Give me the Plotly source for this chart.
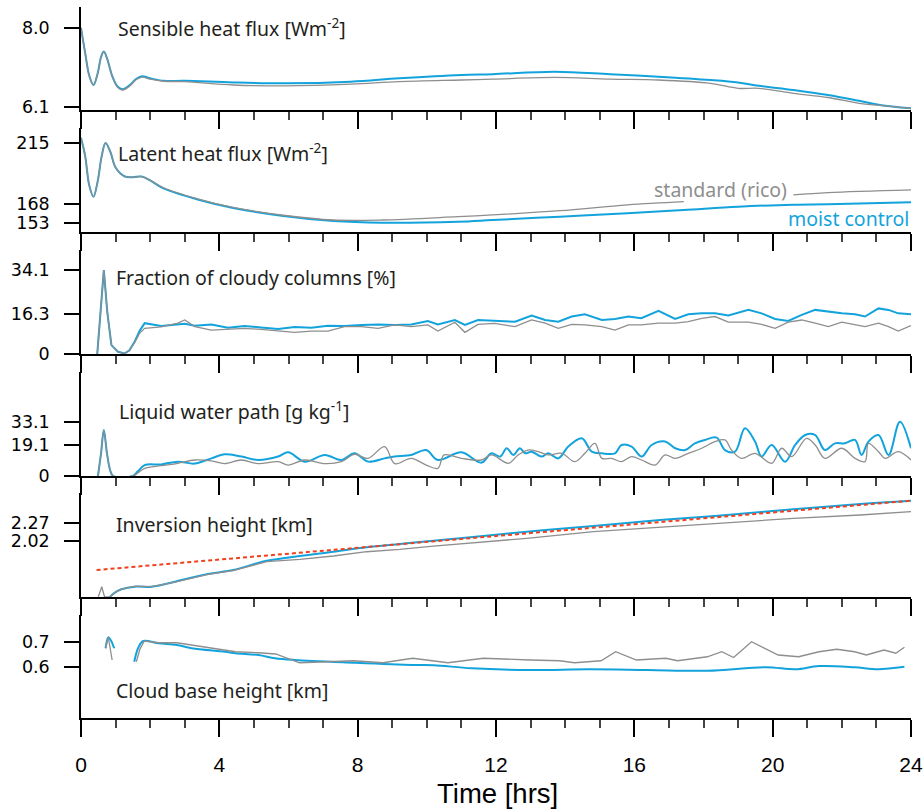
import plotly.graph_objects as go
from plotly.subplots import make_subplots

BLUE = "#13a3dc"
GRAY = "#8e8e8e"
RED = "#f0401e"
TXT = "#231f20"

# ---- panel 1: sensible heat flux [W m-2]
t_shf = [0, 0.12, 0.24, 0.36, 0.48, 0.58, 0.66, 0.76, 0.9, 1.05, 1.2, 1.4, 1.6, 1.77, 2.0, 2.4, 3.0,
         4.4, 5.9, 7.8, 9.2, 11.0, 11.9, 13.7, 15.3, 16.7, 18.2, 19.0, 19.6, 20.6, 21.6, 22.5, 23.1, 24.0]
shf_moist = [8.0, 7.4, 6.85, 6.63, 6.9, 7.3, 7.43, 7.25, 6.85, 6.6, 6.53, 6.62, 6.78, 6.84, 6.79, 6.73, 6.73,
             6.69, 6.67, 6.71, 6.79, 6.87, 6.89, 6.95, 6.89, 6.83, 6.75, 6.69, 6.61, 6.51, 6.39, 6.25, 6.15, 6.07]
shf_std = [8.0, 7.4, 6.85, 6.63, 6.9, 7.3, 7.43, 7.25, 6.85, 6.58, 6.51, 6.6, 6.76, 6.82, 6.77, 6.72, 6.71,
           6.63, 6.61, 6.65, 6.71, 6.75, 6.77, 6.81, 6.77, 6.75, 6.67, 6.55, 6.55, 6.43, 6.33, 6.19, 6.14, 6.07]

# ---- panel 2: latent heat flux [W m-2]
t_lhf = [0, 0.12, 0.24, 0.36, 0.48, 0.6, 0.71, 0.85, 1.0, 1.27, 1.5, 1.75, 2.0, 2.37, 3.4, 4.4, 5.85,
         7.3, 8.7, 10.9, 11.9, 13.85, 15.8, 17.43, 19.0, 20.6, 21.6, 24.0]
lhf_moist = [219, 205, 182, 173.4, 185, 205, 215, 208, 196, 189, 188.5, 189, 186, 180, 171, 164.6, 158.4,
             154.5, 153.2, 154, 155.3, 157.9, 160.5, 163, 165.6, 167.2, 167.5, 169]
lhf_std = [219, 205, 182, 173.4, 185, 205, 215, 208, 196, 189, 188.5, 189, 186, 180.5, 171.5, 165, 159,
           155.3, 155.3, 157.9, 159.2, 162.5, 167, 169.5, None, 174.7, 176.5, 178.6]

# ---- panel 3: fraction of cloudy columns [%]
t_cf = [0.47, 0.57, 0.66, 0.76, 0.88, 1.07, 1.26, 1.4, 1.55, 1.7, 1.84, 2.32, 2.8, 3.0, 3.29, 3.77, 4.25,
        4.73, 5.2, 5.7, 6.18, 6.66, 7.14, 7.62, 8.11, 8.59, 9.07, 9.55, 10.03, 10.32, 10.81, 11.1, 11.48,
        11.96, 12.55, 13.03, 13.42, 13.8, 14.19, 14.57, 15.06, 15.44, 15.83, 16.2, 16.7, 17.18, 17.56,
        17.95, 18.33, 18.72, 19.3, 19.68, 20.07, 20.45, 20.84, 21.23, 21.61, 22.0, 22.38, 22.67, 23.06,
        23.35, 23.63, 24.0]
cf_moist = [0, 17, 34.1, 17, 3.6, 0.9, 0.2, 1.5, 5.0, 9.5, 12.5, 11.4, 12.2, 12.3, 11.5, 12.0, 10.7,
            11.4, 10.8, 10.1, 11.0, 10.7, 11.5, 11.4, 11.8, 12.0, 11.8, 12.0, 13.4, 12.0, 13.8, 11.8, 13.8,
            13.6, 13.1, 15.6, 13.8, 13.1, 15.2, 16.1, 13.8, 14.2, 15.2, 14.5, 17.5, 14.2, 16.1,
            16.5, 16.5, 15.6, 17.9, 16.5, 14.2, 13.4, 15.9, 17.9, 17.2, 16.5, 16.1, 15.2, 18.5,
            17.9, 16.5, 16.1]
cf_std = [0, 17, 34.1, 17, 3.6, 0.9, 0.2, 1.4, 4.6, 8.5, 10.4, 11.0, 12.5, 13.8, 11.1, 9.7, 10.1,
          10.4, 10.0, 9.3, 8.8, 9.3, 9.3, 11.1, 11.1, 10.4, 11.8, 11.1, 11.8, 9.3, 12.9, 8.8, 12.0,
          12.4, 11.1, 13.8, 12.5, 10.4, 12.0, 11.8, 11.1, 9.7, 11.8, 11.8, 12.5, 12.5, 13.1,
          14.5, 15.2, 12.9, 12.9, 12.0, 10.4, 12.9, 13.8, 12.5, 11.1, 12.9, 11.8, 11.1, 12.5,
          11.1, 9.3, 11.5]

# ---- panel 4: liquid water path
t_lwp_moist = [0.49, 0.58, 0.66, 0.75, 0.85, 0.93, 1.5, 1.65, 1.84, 2.32, 2.8, 3.29, 3.77, 4.15, 4.64,
               5.12, 5.7, 5.99, 6.47, 7.05, 7.53, 7.91, 8.3, 8.78, 9.07, 9.55, 9.98, 10.32, 11.0, 11.58,
               11.87, 12.12, 12.31, 12.5, 12.69, 12.84, 13.03, 13.32, 13.51, 13.8, 14.09, 14.48, 14.77,
               15.06, 15.44, 15.63, 15.92, 16.21, 16.5, 16.89, 17.18, 17.47, 17.75, 18.04, 18.38, 18.62,
               18.91, 19.2, 19.49, 19.68, 19.97, 20.36, 20.65, 20.94, 21.23, 21.51, 21.8, 22.09, 22.38,
               22.57, 22.77, 23.06, 23.35, 23.68, 24.0]
lwp_moist = [0, 14, 28.2, 14, 3, 0, 0, 3, 6.7, 7.1, 8.8, 7.6, 10.8, 13.3, 11.9,
             9.8, 11.9, 14.5, 8.8, 12.9, 9.8, 13.9, 8.8, 10.8, 11.9, 12.9, 15.9, 9.8, 14.5, 8.2,
             13.9, 11.9, 17.0, 12.9, 17.0, 13.9, 14.9, 11.9, 13.9, 10.8, 18.0, 23.1, 14.9,
             13.9, 13.9, 19.0, 18.0, 11.9, 19.0, 21.1, 17.0, 15.9, 20.0, 22.1, 23.5, 15.9,
             14.9, 29.2, 21.1, 11.9, 19.0, 8.8, 19.0, 25.1, 25.1, 15.9, 20.0, 20.0, 22.1,
             12.9, 21.1, 25.1, 12.9, 33.3, 17.0]
t_lwp_std = [0.49, 0.58, 0.66, 0.75, 0.85, 0.93, 1.5, 1.65, 1.84, 2.32, 2.8, 3.29, 3.77, 4.15, 4.64,
             5.12, 5.7, 5.99, 6.47, 7.05, 7.53, 7.91, 8.3, 8.78, 9.07, 9.55, 9.98, 10.32, 10.5, 11.0,
             11.58, 11.87, 12.36, 12.64, 12.93, 13.22, 13.51, 13.9, 14.28, 14.57, 14.86, 15.06, 15.34,
             15.63, 15.92, 16.21, 16.6, 16.89, 17.18, 17.56, 17.95, 18.33, 18.62, 18.81, 19.1, 19.49,
             19.97, 20.26, 20.55, 20.98, 21.23, 21.51, 22.0, 22.38, 22.67, 22.77, 23.06, 23.25, 23.63, 24.0]
lwp_std = [0, 14, 28, 14, 3, 0, 0, 2, 4.7, 6.3, 7.8, 9.8, 9.2, 7.6, 9.8,
           7.6, 8.8, 6.7, 9.8, 7.6, 8.8, 13.3, 10.8, 18.0, 7.6, 10.8, 6.7, 4.7, 12.9, 10.8,
           9.8, 12.9, 7.8, 12.9, 15.9, 14.9, 12.9, 13.9, 8.8, 13.9, 20.0, 10.8, 10.8,
           8.8, 11.9, 9.8, 6.7, 12.9, 10.8, 13.9, 17.0, 21.1, 22.1, 15.9, 10.8, 13.9,
           7.8, 17.0, 11.9, 23.1, 19.0, 10.8, 17.0, 10.8, 8.8, 20.0, 14.9, 10.8, 14.9, 9.8]

# ---- panel 5: inversion height [km]
t_inv_moist = [0.84, 1.0, 1.17, 1.56, 2.04, 2.72, 3.67, 4.4, 5.37, 6.33, 7.3, 8.26, 9.22, 10.19, 10.96,
               12.89, 14.82, 16.74, 18.67, 20.6, 22.53, 24.0]
inv_moist = [1.246, 1.31, 1.349, 1.385, 1.385, 1.455, 1.562, 1.617, 1.745, 1.812, 1.871, 1.932, 1.978,
             2.024, 2.057, 2.149, 2.228, 2.312, 2.381, 2.46, 2.534, 2.58]
t_inv_std = [0.5, 0.6, 0.68, 0.84, 1.0, 1.17, 1.56, 2.04, 2.72, 3.67, 4.4, 5.37, 6.33, 7.3, 8.26, 9.22,
             10.19, 10.96, 12.89, 14.82, 16.74, 18.67, 20.6, 22.53, 24.0]
inv_std = [1.245, 1.385, 1.245, 1.246, 1.31, 1.35, 1.392, 1.385, 1.45, 1.555, 1.61, 1.733, 1.766, 1.812,
           1.871, 1.905, 1.95, 1.978, 2.057, 2.149, 2.21, 2.274, 2.335, 2.381, 2.427]
t_inv_fit = [0.45, 24.0]
inv_fit = [1.617, 2.58]

# ---- panel 6: cloud base height [km]
t_cb_moist = [0.71, 0.75, 0.79, 0.87, 0.96, None, 1.54, 1.65, 1.8, 2.24, 2.77, 3.2, 4.16, 4.47, 5.13,
              5.61, 6.18, 7.88, 9.59, 10.2, 11.29, 12.99, 14.7, 16.4, 18.11, 19.81, 20.66, 21.34, 22.37,
              23.05, 23.81]
cb_moist = [0.675, 0.705, 0.719, 0.705, 0.675, None, 0.621, 0.675, 0.704, 0.695, 0.688, 0.675, 0.661,
            0.655, 0.648, 0.635, 0.628, 0.617, 0.608, 0.607, 0.595, 0.588, 0.591, 0.588, 0.585, 0.599,
            0.591, 0.604, 0.599, 0.591, 0.601]
t_cb_std = [0.71, 0.79, 0.9, None, 1.6, 1.7, 1.83, 2.24, 2.77, 3.2, 4.16, 4.47, 5.13, 5.63, 6.32, 7.88,
            8.73, 9.59, 10.61, 11.63, 12.99, 13.84, 14.27, 15.04, 15.46, 16.06, 16.91, 17.25, 18.11,
            18.53, 18.87, 19.39, 20.16, 20.75, 21.34, 21.85, 22.37, 22.71, 23.22, 23.56, 23.81]
cb_std = [0.675, 0.719, 0.628, None, 0.621, 0.67, 0.704, 0.697, 0.697, 0.688, 0.668, 0.661, 0.657, 0.652,
          0.617, 0.625, 0.617, 0.635, 0.617, 0.635, 0.628, 0.625, 0.617, 0.625, 0.661, 0.628, 0.635,
          0.625, 0.641, 0.661, 0.638, 0.701, 0.648, 0.641, 0.661, 0.671, 0.661, 0.648, 0.668, 0.655, 0.679]

panels = [
    dict(title="Sensible heat flux [Wm<sup>-2</sup>]", rng=[6.03, 8.5], tv=[6.1, 8.0], tt=["6.1", "8.0"]),
    dict(title="Latent heat flux [Wm<sup>-2</sup>]", rng=[146, 226.6], tv=[153, 168, 215], tt=["153", "168", "215"]),
    dict(title="Fraction of cloudy columns [%]", rng=[0, 42.2], tv=[0, 16.3, 34.1], tt=["0", "16.3", "34.1"]),
    dict(title="Liquid water path [g kg<sup>-1</sup>]", rng=[0, 63.7], tv=[0, 19.1, 33.1], tt=["0", "19.1", "33.1"]),
    dict(title="Inversion height [km]", rng=[1.242, 2.687], tv=[2.02, 2.27], tt=["2.02", "2.27"]),
    dict(title="Cloud base height [km]", rng=[0.396, 0.808], tv=[0.6, 0.7], tt=["0.6", "0.7"]),
]

W, H = 923, 812
L, R, T, B = 81, 12, 7, 94
# panel top/bottom in pixels
px_rows = [(7, 110), (128, 232), (250, 354), (372, 476), (493, 597), (615, 718)]
label_px = [(116, 28), (116, 153), (114, 277), (117, 410), (114, 524), (114, 690)]


def py(y):
    return (H - B - y) / (H - T - B)


def px(x):
    return (x - L) / (W - L - R)


fig = make_subplots(rows=6, cols=1)

series = [
    [(t_shf, shf_moist, BLUE, 2, "spline"), (t_shf, shf_std, GRAY, 1.3, "spline")],
    [(t_lhf, lhf_moist, BLUE, 2, "spline"), (t_lhf, lhf_std, GRAY, 1.3, "spline")],
    [(t_cf, cf_moist, BLUE, 2, "linear"), (t_cf, cf_std, GRAY, 1.3, "linear")],
    [(t_lwp_moist, lwp_moist, BLUE, 2, "spline"), (t_lwp_std, lwp_std, GRAY, 1.3, "spline")],
    [(t_inv_moist, inv_moist, BLUE, 2, "spline"), (t_inv_std, inv_std, GRAY, 1.3, "linear")],
    [(t_cb_moist, cb_moist, BLUE, 2, "spline"), (t_cb_std, cb_std, GRAY, 1.3, "linear")],
]
for i, ser in enumerate(series, start=1):
    for x, y, c, w, shp in ser:
        fig.add_trace(go.Scatter(x=x, y=y, mode="lines", line=dict(color=c, width=w, shape=shp),
                                 showlegend=False, hoverinfo="skip"), row=i, col=1)
fig.add_trace(go.Scatter(x=t_inv_fit, y=inv_fit, mode="lines", line=dict(color=RED, width=2, dash="4px,3px"),
                         showlegend=False, hoverinfo="skip"), row=5, col=1)

for i, p in enumerate(panels, start=1):
    top, bot = px_rows[i - 1]
    fig.update_xaxes(row=i, col=1, range=[0, 24], domain=[0, 1], showline=True, linecolor="black",
                     linewidth=2, ticks="outside", tick0=0, dtick=4, ticklen=17, tickwidth=2,
                     tickcolor="black", showgrid=False, zeroline=False, automargin=False,
                     minor=dict(dtick=1, tick0=0, ticks="outside", ticklen=8, tickwidth=1.5, tickcolor="#444"),
                     showticklabels=(i == 6), ticklabelstandoff=10,
                     tickfont=dict(family="Liberation Sans, Arial", size=21, color="black"))
    fig.update_yaxes(row=i, col=1, range=p["rng"], domain=[py(bot), py(top)], showline=True,
                     linecolor="black", linewidth=1.5, ticks="outside", ticklen=15, tickwidth=1.5,
                     tickcolor="black", tickvals=p["tv"], ticktext=p["tt"], showgrid=False, zeroline=False,
                     ticklabelstandoff=11, automargin=False,
                     tickfont=dict(family="DejaVu Sans", size=17.5, color="black"))
    lx, ly = label_px[i - 1]
    fig.add_annotation(x=px(lx), y=py(ly), xref="paper", yref="paper", text=p["title"], showarrow=False,
                       xanchor="left", yanchor="middle",
                       font=dict(family="Noto Sans", size=19.5, color=TXT))

fig.add_annotation(x=px(652), y=py(190), xref="paper", yref="paper", text="standard (rico)", showarrow=False,
                   xanchor="left", yanchor="middle", font=dict(family="Noto Sans", size=19.5, color=GRAY))
fig.add_annotation(x=px(911), y=py(218), xref="paper", yref="paper", text="moist control", showarrow=False,
                   xanchor="right", yanchor="middle", font=dict(family="Noto Sans", size=19.5, color=BLUE))
fig.add_annotation(x=px(497), y=py(793), xref="paper", yref="paper", text="Time [hrs]", showarrow=False,
                   xanchor="center", yanchor="middle",
                   font=dict(family="Liberation Sans, Arial", size=27.5, color="black"))

fig.update_layout(width=W, height=H, margin=dict(l=L, r=R, t=T, b=B), paper_bgcolor="white",
                  plot_bgcolor="white")
fig.write_html("out.html", config={"displayModeBar": False},
               post_script="document.body.style.margin='0';document.body.style.overflow='hidden';")
